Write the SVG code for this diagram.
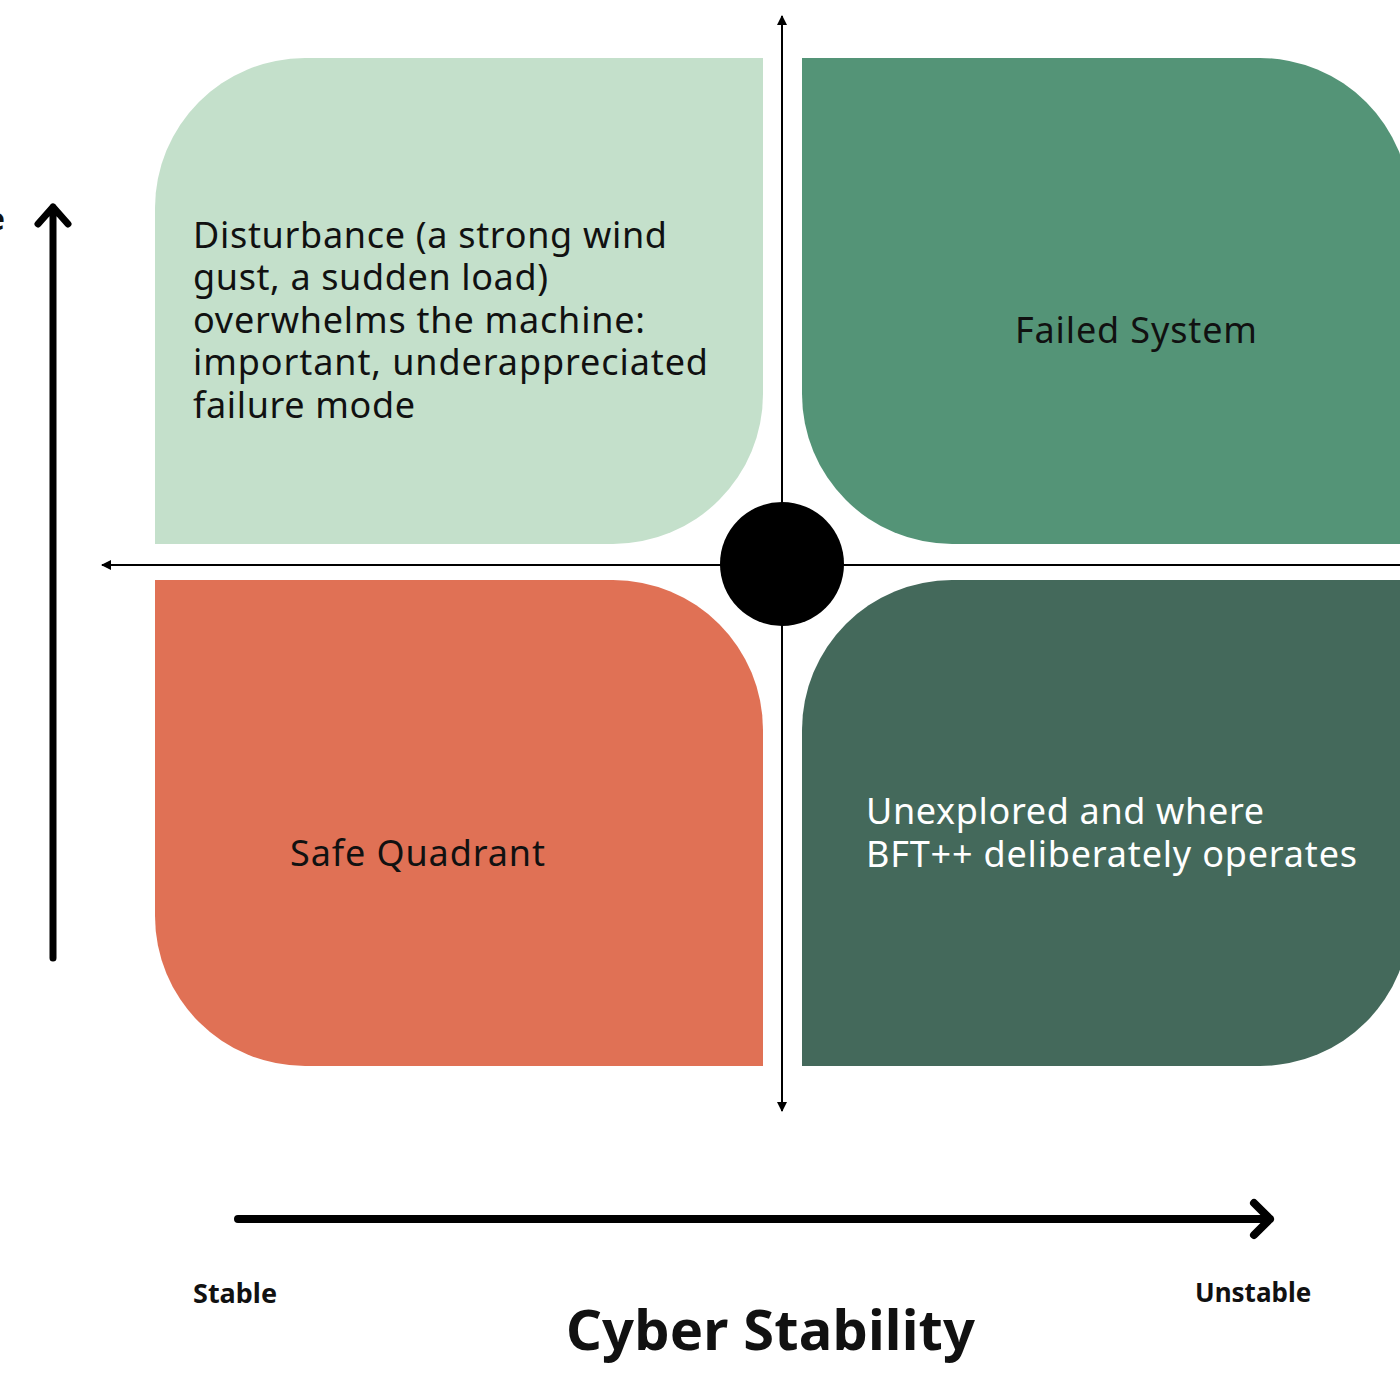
<svg xmlns="http://www.w3.org/2000/svg" width="1400" height="1400" viewBox="0 0 1400 1400">
<defs>
<style>
.q{font-family:"Noto Sans","Open Sans",sans-serif;font-size:36px;fill:#111}
.w{fill:#fff}
.lbl{font-family:"Noto Sans","Open Sans",sans-serif;font-weight:bold;fill:#111}
.thin{stroke:#000;stroke-width:2;fill:none}
.thick{stroke:#000;fill:none;stroke-linecap:round;stroke-linejoin:round}
</style>
<marker id="tri" viewBox="0 0 10 10" refX="9" refY="5" markerWidth="5" markerHeight="5" orient="auto-start-reverse" markerUnits="strokeWidth">
<path d="M0,0 L10,5 L0,10 Z" fill="#000"/>
</marker>
</defs>
<rect width="1400" height="1400" fill="#fff"/>
<g id="q-top-left">
<path d="M155,208 A150,150 0 0 1 305,58 L763,58 L763,394 A150,150 0 0 1 613,544 L155,544 Z" fill="#C4E0CB"/>
<text class="q"><tspan x="193" y="248" textLength="474" lengthAdjust="spacing">Disturbance (a strong wind</tspan><tspan x="193" y="290" textLength="355" lengthAdjust="spacing">gust, a sudden load)</tspan><tspan x="193" y="333" textLength="452" lengthAdjust="spacing">overwhelms the machine:</tspan><tspan x="193" y="375" textLength="515" lengthAdjust="spacing">important, underappreciated</tspan><tspan x="193" y="418" textLength="222" lengthAdjust="spacing">failure mode</tspan></text>
</g>
<g id="q-top-right">
<path d="M802,58 L1260,58 A150,150 0 0 1 1410,208 L1410,544 L952,544 A150,150 0 0 1 802,394 Z" fill="#549477"/>
<text class="q" x="1015" y="343" textLength="242" lengthAdjust="spacing">Failed System</text>
</g>
<g id="q-bottom-left">
<path d="M155,580 L613,580 A150,150 0 0 1 763,730 L763,1066 L305,1066 A150,150 0 0 1 155,916 Z" fill="#E07155"/>
<text class="q" x="290" y="866" textLength="255" lengthAdjust="spacing">Safe Quadrant</text>
</g>
<g id="q-bottom-right">
<path d="M952,580 L1410,580 L1410,916 A150,150 0 0 1 1260,1066 L802,1066 L802,730 A150,150 0 0 1 952,580 Z" fill="#44695B"/>
<text class="q w"><tspan x="866" y="824" textLength="398" lengthAdjust="spacing">Unexplored and where</tspan><tspan x="866" y="867" textLength="491" lengthAdjust="spacing">BFT++ deliberately operates</tspan></text>
</g>
<g id="connectors">
<line class="thin" x1="782" y1="1111" x2="782" y2="16" marker-start="url(#tri)" marker-end="url(#tri)"/>
<line class="thin" x1="1410" y1="565" x2="102" y2="565" marker-end="url(#tri)"/>
<path class="thick" stroke-width="7" d="M53,958 L53,207 M38,224 L53,207 L68,224"/>
<path class="thick" stroke-width="8" d="M238,1219 L1270,1219 M1254,1203 L1270,1219 L1254,1235"/>
</g>
<g id="center">
<circle cx="782" cy="564" r="62" fill="#000"/>
</g>
<g id="labels">
<text class="lbl" x="5" y="230" font-size="30" text-anchor="end">e</text>
<text class="lbl" x="193" y="1303" font-size="27">Stable</text>
<text class="lbl" x="1195" y="1302" font-size="26">Unstable</text>
<text class="lbl" x="566" y="1350" font-size="56" textLength="409" lengthAdjust="spacing">Cyber Stability</text>
</g>
</svg>
